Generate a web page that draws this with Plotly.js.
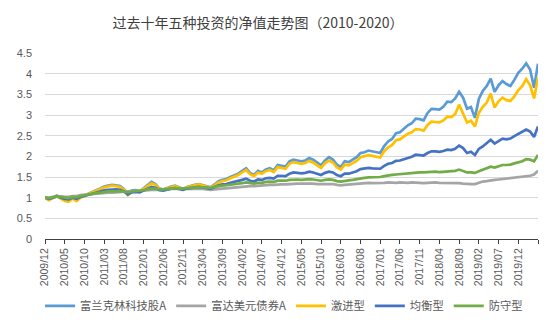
<!DOCTYPE html>
<html>
<head>
<meta charset="utf-8">
<script src="https://cdn.plot.ly/plotly-3.0.1.min.js"></script>
<style>html,body{margin:0;padding:0;background:#fff;}#chart{width:558px;height:332px;}</style>
</head>
<body>
<div id="chart"></div>
<script>
// Monthly categories 2009/12 .. 2020/05
const startYear = 2009, startMonth = 12, monthCount = 126;
const months = [];
for (let k = 0; k < monthCount; k++) {
  const m0 = startMonth - 1 + k;
  const y = startYear + Math.floor(m0 / 12);
  const m = (m0 % 12) + 1;
  months.push(y + '/' + (m < 10 ? '0' + m : '' + m));
}

const seriesNames = ['富兰克林科技股A', '富达美元债券A', '激进型', '均衡型', '防守型'];

const franklinTech = [1.00,0.95,1.00,1.05,1.00,0.95,0.93,1.00,0.95,1.02,1.05,1.10,1.14,1.18,1.22,1.27,1.29,1.31,1.30,1.28,1.21,1.08,1.17,1.18,1.15,1.22,1.30,1.38,1.33,1.22,1.20,1.24,1.27,1.29,1.25,1.21,1.26,1.29,1.31,1.33,1.30,1.28,1.25,1.32,1.40,1.43,1.45,1.50,1.54,1.58,1.65,1.71,1.60,1.55,1.65,1.61,1.68,1.71,1.66,1.79,1.77,1.75,1.88,1.92,1.90,1.88,1.90,1.96,1.92,1.85,1.78,1.90,1.98,1.92,1.80,1.74,1.88,1.86,1.92,1.98,2.08,2.10,2.14,2.12,2.10,2.08,2.25,2.36,2.42,2.56,2.58,2.66,2.75,2.80,2.91,2.90,2.87,3.05,3.15,3.14,3.13,3.20,3.32,3.31,3.40,3.56,3.42,3.15,3.19,2.93,3.39,3.58,3.70,3.88,3.56,3.72,3.82,3.75,3.70,3.85,4.02,4.12,4.25,4.10,3.66,4.24];

const fidelityUsdBond = [1.00,1.00,1.02,1.03,1.03,1.02,1.02,1.04,1.04,1.06,1.07,1.08,1.09,1.09,1.10,1.11,1.12,1.12,1.13,1.13,1.14,1.15,1.16,1.16,1.17,1.17,1.18,1.19,1.19,1.19,1.20,1.20,1.21,1.21,1.20,1.20,1.21,1.21,1.22,1.22,1.21,1.20,1.19,1.20,1.21,1.22,1.23,1.24,1.25,1.26,1.27,1.28,1.28,1.28,1.29,1.30,1.31,1.31,1.31,1.32,1.32,1.32,1.33,1.33,1.34,1.34,1.34,1.35,1.34,1.33,1.33,1.33,1.34,1.33,1.31,1.30,1.31,1.32,1.33,1.34,1.35,1.35,1.36,1.35,1.35,1.35,1.36,1.37,1.36,1.36,1.37,1.36,1.36,1.37,1.37,1.36,1.35,1.36,1.36,1.37,1.36,1.36,1.35,1.35,1.35,1.35,1.34,1.33,1.33,1.33,1.36,1.39,1.40,1.42,1.43,1.44,1.45,1.47,1.48,1.49,1.50,1.51,1.52,1.53,1.56,1.65];

const aggressive = [1.00,0.94,0.99,1.04,0.98,0.92,0.90,0.98,0.92,1.00,1.04,1.09,1.13,1.17,1.21,1.25,1.27,1.29,1.28,1.26,1.19,1.06,1.15,1.16,1.14,1.20,1.28,1.35,1.31,1.21,1.19,1.23,1.26,1.28,1.24,1.20,1.25,1.28,1.30,1.32,1.29,1.27,1.24,1.30,1.37,1.40,1.42,1.47,1.51,1.55,1.61,1.67,1.57,1.52,1.61,1.58,1.64,1.67,1.62,1.74,1.72,1.70,1.82,1.86,1.84,1.82,1.84,1.89,1.85,1.79,1.72,1.83,1.90,1.85,1.73,1.68,1.80,1.78,1.84,1.89,1.98,2.00,2.03,2.01,1.99,1.97,2.12,2.22,2.27,2.39,2.41,2.47,2.55,2.58,2.66,2.65,2.62,2.76,2.84,2.83,2.82,2.87,2.96,2.95,3.02,3.25,3.05,2.82,2.86,2.72,3.05,3.20,3.30,3.52,3.18,3.33,3.42,3.36,3.34,3.45,3.60,3.70,3.87,3.72,3.40,3.90];

const balanced = [1.00,0.97,1.00,1.03,1.00,0.97,0.96,1.00,0.97,1.02,1.04,1.07,1.10,1.13,1.15,1.18,1.19,1.20,1.20,1.19,1.15,1.08,1.13,1.14,1.13,1.17,1.21,1.26,1.24,1.18,1.17,1.20,1.22,1.23,1.21,1.19,1.22,1.24,1.25,1.26,1.25,1.24,1.22,1.26,1.30,1.32,1.33,1.36,1.38,1.40,1.43,1.46,1.41,1.39,1.44,1.43,1.47,1.48,1.46,1.53,1.53,1.52,1.58,1.61,1.60,1.59,1.60,1.63,1.61,1.58,1.55,1.60,1.63,1.61,1.55,1.52,1.58,1.58,1.61,1.64,1.69,1.70,1.72,1.71,1.70,1.70,1.77,1.82,1.84,1.89,1.90,1.93,1.97,1.99,2.04,2.03,2.02,2.08,2.12,2.12,2.11,2.13,2.16,2.15,2.18,2.26,2.20,2.08,2.11,2.03,2.18,2.24,2.31,2.40,2.31,2.38,2.43,2.41,2.43,2.49,2.55,2.60,2.65,2.60,2.47,2.72];

const defensive = [1.00,0.99,1.01,1.03,1.02,1.00,0.99,1.02,1.01,1.04,1.06,1.08,1.10,1.11,1.12,1.14,1.15,1.15,1.16,1.16,1.15,1.13,1.15,1.16,1.16,1.18,1.20,1.22,1.22,1.20,1.20,1.21,1.22,1.23,1.22,1.22,1.23,1.24,1.25,1.25,1.25,1.25,1.24,1.26,1.28,1.29,1.30,1.31,1.32,1.33,1.35,1.37,1.35,1.34,1.36,1.36,1.38,1.39,1.38,1.41,1.41,1.41,1.43,1.44,1.44,1.43,1.44,1.45,1.44,1.42,1.41,1.43,1.44,1.43,1.40,1.39,1.41,1.42,1.43,1.45,1.47,1.48,1.49,1.49,1.49,1.50,1.52,1.54,1.55,1.56,1.57,1.58,1.59,1.60,1.61,1.61,1.61,1.62,1.63,1.63,1.62,1.63,1.64,1.64,1.65,1.68,1.65,1.61,1.61,1.60,1.64,1.68,1.72,1.75,1.73,1.76,1.79,1.79,1.80,1.83,1.86,1.88,1.93,1.92,1.88,2.03];

const seriesValues = [franklinTech, fidelityUsdBond, aggressive, balanced, defensive];
const seriesColors = ['#5B9BD5', '#A5A5A5', '#FFC000', '#4472C4', '#70AD47'];

const tickStep = 5;
const tickVals = [], tickText = [];
for (let k = 0; k < months.length; k += tickStep) {
  tickVals.push(months[k]);
  tickText.push(k <= 120 ? months[k] : '');
}

const traces = seriesNames.map((name, s) => ({
  type: 'scatter', mode: 'lines', name: name,
  x: months, y: seriesValues[s],
  line: {color: seriesColors[s], width: 2.7},
  hoverinfo: 'skip'
}));

const layout = {
  width: 558, height: 332,
  paper_bgcolor: '#fff', plot_bgcolor: '#fff',
  margin: {l: 45, r: 20, t: 53, b: 89},
  font: {family: '"Noto Sans CJK SC", "Liberation Sans", sans-serif', color: '#595959'},
  title: {
    text: '过去十年五种投资的净值走势图（2010-2020）',
    font: {family: '"Noto Sans CJK SC", sans-serif', size: 14, color: '#404040'},
    x: 258 / 558, xref: 'container', xanchor: 'center',
    y: 1 - 23 / 332, yref: 'container', yanchor: 'middle'
  },
  xaxis: {
    type: 'category', range: [0, months.length - 1],
    tickmode: 'array', tickvals: tickVals, ticktext: tickText,
    tickangle: -90, tickfont: {family: '"Liberation Sans", sans-serif', size: 10.5, color: '#595959'},
    ticks: 'outside', ticklen: 4, tickcolor: '#404040', tickwidth: 1,
    showline: true, linecolor: '#404040', linewidth: 1,
    showgrid: false, zeroline: false, fixedrange: true
  },
  yaxis: {
    range: [0, 4.5], dtick: 0.5, tick0: 0,
    tickfont: {family: '"Liberation Sans", sans-serif', size: 11, color: '#595959'},
    showgrid: true, gridcolor: '#D9D9D9', gridwidth: 1,
    zeroline: false, showline: false, ticks: '', ticklabelstandoff: 12, fixedrange: true
  },
  showlegend: true,
  legend: {
    orientation: 'h', x: -0.01, xanchor: 'left', y: -0.36, yanchor: 'middle',
    font: {family: '"Noto Sans CJK SC", sans-serif', size: 11.3, color: '#595959'},
    itemwidth: 30, tracegroupgap: 0, traceorder: 'normal'
  }
};

Plotly.newPlot('chart', traces, layout, {displayModeBar: false, staticPlot: true});
</script>
</body>
</html>
